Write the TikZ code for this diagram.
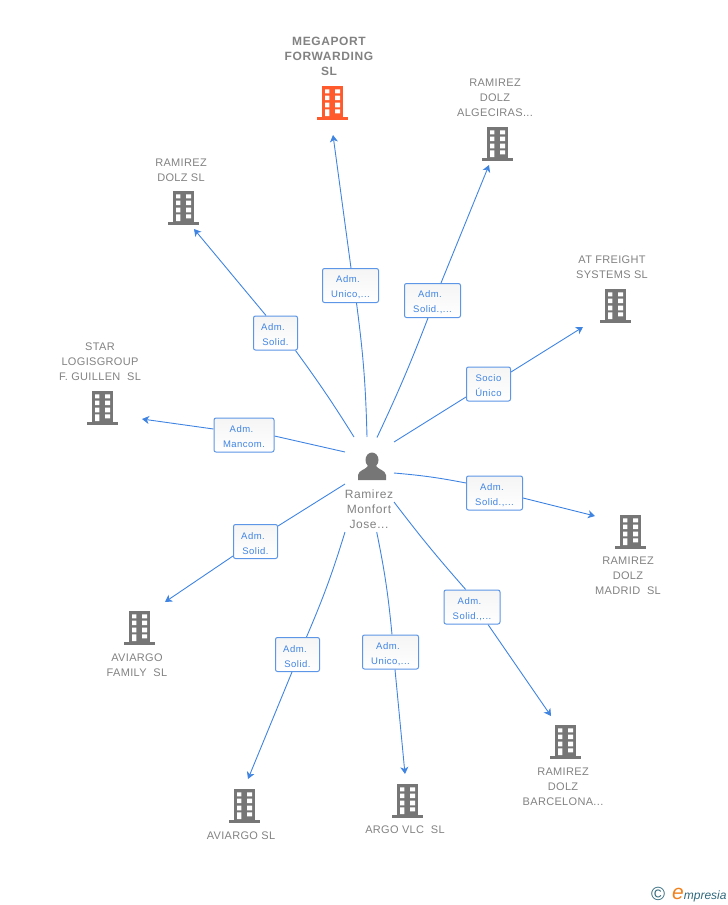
\documentclass[tikz,border=0pt]{standalone}
\usepackage{fontspec}
\usepackage{xcolor}
\setmainfont{Liberation Sans}
\newfontfamily\smalllabel[LetterSpace=3]{Liberation Sans}
\newfontfamily\widelabel[LetterSpace=5]{Liberation Sans}
\usetikzlibrary{arrows.meta, backgrounds}
\definecolor{linkcolor}{RGB}{64,132,226}
\definecolor{namecolor}{RGB}{130,130,130}
\definecolor{iconcolor}{RGB}{118,118,118}
\definecolor{maincolor}{RGB}{255,90,44}
\definecolor{logocolor}{RGB}{48,104,124}
\definecolor{logoorange}{RGB}{240,130,30}

\begin{document}
\begin{tikzpicture}[
    x=1pt, y=-1pt,
    company/.style={font=\smalllabel\fontsize{11}{15}\selectfont, text=namecolor, align=center, inner sep=0pt},
    rolebox/.style={draw=linkcolor!85, top color=black!4, bottom color=white, rounded corners=2pt, line width=1pt, minimum width=56pt, minimum height=34pt, inner sep=0pt, align=center, text=linkcolor, font=\widelabel\fontsize{9.5}{15}\selectfont, text height=26pt},
    wire/.style={draw=linkcolor, line width=0.9pt},
    arrow/.style={wire, -{Stealth[length=7pt, width=8pt, inset=2pt]}},
    pics/building/.style={code={
        \fill[#1] (-10.5,-16) rectangle (11,15);
        \fill[#1] (-15.5,15) rectangle (16,17.5);
        \fill[white] (-7,-12.7) rectangle (-2.7,-8.7) (3,-12.7) rectangle (8,-8.7);
        \fill[white] (-7,-6.3) rectangle (-2.7,-2) (3,-6.3) rectangle (8,-2);
        \fill[white] (-7,0.7) rectangle (-2.7,5.3) (3,0.7) rectangle (8,5.3);
        \fill[white] (-7,7.3) rectangle (-2.7,14) (3,7.3) rectangle (8,11.3);
    }}
]
    \useasboundingbox (0,0) rectangle (728,905);

    % Central person
    \fill[iconcolor] (372,460) ellipse (6.5 and 7.5);
    \fill[iconcolor] (358,480) -- (358,475) .. controls (359,470) and (365,470) .. (368,466) -- (376,466) .. controls (379,470) and (385,470) .. (386,475) -- (386,480) -- cycle;
    \node[company, font=\widelabel\fontsize{12}{15}\selectfont] (person) at (369,509) {Ramirez\\Monfort\\Jose...};

    % Companies
    \pic at (332,102) {building=maincolor};
    \pic at (497,143) {building=iconcolor};
    \pic at (183,207) {building=iconcolor};
    \pic at (615,305) {building=iconcolor};
    \pic at (102,407) {building=iconcolor};
    \pic at (630,531) {building=iconcolor};
    \pic at (139,627) {building=iconcolor};
    \pic at (244,805) {building=iconcolor};
    \pic at (407,800) {building=iconcolor};
    \pic at (565,741) {building=iconcolor};

    \node[company, font=\widelabel\fontsize{12}{15}\selectfont\bfseries] (megaport) at (329,56) {MEGAPORT\\FORWARDING\\SL};
    \node[company] (algeciras) at (495,98) {RAMIREZ\\DOLZ\\ALGECIRAS...};
    \node[company] (dolz) at (181,170.5) {RAMIREZ\\DOLZ SL};
    \node[company] (freight) at (612,267.5) {AT FREIGHT\\SYSTEMS SL};
    \node[company] (star) at (100,362) {STAR\\LOGISGROUP\\F. GUILLEN\ \ SL};
    \node[company] (madrid) at (628,576) {RAMIREZ\\DOLZ\\MADRID\ \ SL};
    \node[company] (family) at (137,665.5) {AVIARGO\\FAMILY\ \ SL};
    \node[company] (aviargo) at (241,836) {AVIARGO SL};
    \node[company] (argo) at (405,830) {ARGO VLC\ \ SL};
    \node[company] (barcelona) at (563,787) {RAMIREZ\\DOLZ\\BARCELONA...};

    % Role labels
    \node[rolebox] (megaportrole) at (350.5,285.5) {Adm.\hspace*{5pt}\\Unico,...};
    \node[rolebox] (algecirasrole) at (432.5,300.5) {Adm.\hspace*{5pt}\\Solid.,...};
    \node[rolebox, minimum width=44pt] (dolzrole) at (275.5,333) {Adm.\hspace*{5pt}\\Solid.};
    \node[rolebox, minimum width=44pt] (freightrole) at (488.5,384) {Socio\\Único};
    \node[rolebox, minimum width=60pt] (starrole) at (244,435) {Adm.\hspace*{5pt}\\Mancom.};
    \node[rolebox] (madridrole) at (494.5,493) {Adm.\hspace*{5pt}\\Solid.,...};
    \node[rolebox, minimum width=44pt] (familyrole) at (255.5,541.5) {Adm.\hspace*{5pt}\\Solid.};
    \node[rolebox, minimum width=44pt] (aviargorole) at (297.5,654.5) {Adm.\hspace*{5pt}\\Solid.};
    \node[rolebox] (argorole) at (390.5,652) {Adm.\hspace*{5pt}\\Unico,...};
    \node[rolebox] (barcelonarole) at (472,607) {Adm.\hspace*{5pt}\\Solid.,...};

    % Free ends of the connectors
    \coordinate (megaportfrom) at (367,437);
    \coordinate (algecirasfrom) at (377,437.5);
    \coordinate (dolzfrom) at (354,437);
    \coordinate (freightfrom) at (394,442);
    \coordinate (starfrom) at (345,452);
    \coordinate (madridfrom) at (394,473);
    \coordinate (familyfrom) at (345,484);
    \coordinate (aviargofrom) at (345,532);
    \coordinate (argofrom) at (376.7,532);
    \coordinate (barcelonafrom) at (394,502);
    \coordinate (megaportto) at (333,135);
    \coordinate (algecirasto) at (489,165);
    \coordinate (dolzto) at (194,229);
    \coordinate (freightto) at (583,327);
    \coordinate (starto) at (142,419);
    \coordinate (madridto) at (595,516);
    \coordinate (familyto) at (165,602);
    \coordinate (aviargoto) at (248,779);
    \coordinate (argoto) at (405,774);
    \coordinate (barcelonato) at (551,716);

    % Connectors
    \begin{scope}[on background layer]
        \draw[wire] (megaportfrom) to[bend right=3] ([xshift=6pt]megaportrole.south);
        \draw[wire] (algecirasfrom) to[bend right=2] ([xshift=-4.5pt]algecirasrole.south);
        \draw[wire] (dolzfrom) to[bend right=2] ([xshift=20pt]dolzrole.south);
        \draw[wire] (freightfrom) -- ([yshift=-13pt]freightrole.west);
        \draw[wire] (starfrom) -- ([yshift=-1pt]starrole.east);
        \draw[wire] (madridfrom) to[bend left=3] ([yshift=10pt]madridrole.west);
        \draw[wire] (familyfrom) -- ([yshift=15.5pt]familyrole.east);
        \draw[wire] (aviargofrom) to[bend left=3] ([xshift=9pt]aviargorole.north);
        \draw[wire] (argofrom) to[bend left=3] ([xshift=1.5pt]argorole.north);
        \draw[wire] (barcelonafrom) to[bend right=2] ([xshift=-6.3pt]barcelonarole.north);

        \draw[arrow] ([xshift=0.5pt]megaportrole.north) -- (megaportto);
        \draw[arrow] ([xshift=8.5pt]algecirasrole.north) -- (algecirasto);
        \draw[arrow] ([xshift=-9.5pt]dolzrole.north) -- (dolzto);
        \draw[arrow] ([yshift=12pt]freightrole.east) -- (freightto);
        \draw[arrow] ([yshift=6pt]starrole.west) -- (starto);
        \draw[arrow] ([yshift=-5pt]madridrole.east) -- (madridto);
        \draw[arrow] ([yshift=-14.5pt]familyrole.west) -- (familyto);
        \draw[arrow] ([xshift=-5.5pt]aviargorole.south) -- (aviargoto);
        \draw[arrow] ([xshift=4.5pt]argorole.south) -- (argoto);
        \draw[arrow] ([xshift=16pt]barcelonarole.south) -- (barcelonato);
    \end{scope}

    % Logo
    \node[inner sep=0pt, text=logocolor, font=\fontsize{19}{19}\selectfont] (copyrightmark) at (658,894) {©};
    \node[inner sep=0pt, anchor=base west, text=logocolor, font=\fontsize{12}{12}\selectfont\itshape] (logo) at (672,899) {\textcolor{logoorange}{\fontsize{21}{21}\selectfont e}mpresia};
\end{tikzpicture}
\end{document}
